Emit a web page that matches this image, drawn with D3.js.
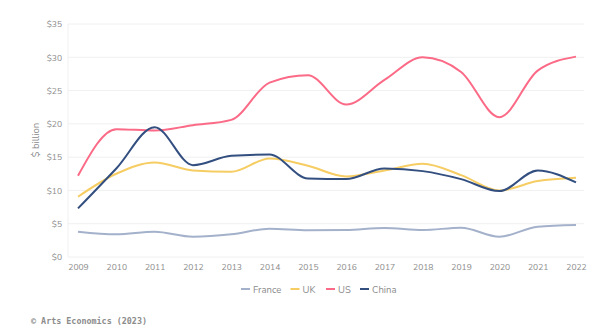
<!DOCTYPE html>
<html>
<head>
<meta charset="utf-8">
<script src="https://cdn.jsdelivr.net/npm/d3@7"></script>
<style>
  html, body { margin: 0; padding: 0; background: #fff; }
  svg { display: block; }
</style>
</head>
<body>
<svg id="chart" width="605" height="334"></svg>
<script>
// Art market sales by country, $ billion
const years = ["2009","2010","2011","2012","2013","2014","2015","2016","2017","2018","2019","2020","2021","2022"];
const france = [3.8, 3.4, 3.8, 3.05, 3.4, 4.25, 4.0, 4.05, 4.35, 4.05, 4.4, 3.05, 4.55, 4.8];
const uk     = [9.05, 12.5, 14.2, 13.0, 12.8, 14.8, 13.7, 12.1, 13.0, 14.0, 12.3, 10.0, 11.4, 11.9];
const us     = [12.2, 19.2, 19.0, 19.8, 20.6, 26.2, 27.3, 22.9, 26.6, 30.0, 27.8, 21.0, 28.0, 30.1];
const china  = [7.3, 13.3, 19.5, 13.8, 15.2, 15.4, 11.8, 11.7, 13.3, 12.9, 11.7, 9.9, 13.0, 11.2];
const yTicks = [0, 5, 10, 15, 20, 25, 30, 35];

const seriesNames = ["France", "UK", "US", "China"];
const seriesValues = [france, uk, us, china];
const colors = ["#a4b1cb", "#f6cd63", "#fb6a86", "#334f80"];

const svg = d3.select("#chart");
const font = "Nunito, 'Open Sans', Lato, sans-serif";

const plot = { left: 68, right: 584, top: 24, bottom: 257 };

const x = d3.scalePoint().domain(years).range([78, 576]);
const y = d3.scaleLinear().domain([0, 35]).range([plot.bottom, plot.top]);

// horizontal grid
svg.append("g").selectAll("line").data(yTicks).join("line")
  .attr("x1", plot.left).attr("x2", plot.right)
  .attr("y1", d => y(d)).attr("y2", d => y(d))
  .attr("stroke", "#f0f0f0").attr("stroke-width", 1);

// left frame line
svg.append("line")
  .attr("x1", plot.left).attr("x2", plot.left)
  .attr("y1", plot.top).attr("y2", plot.bottom)
  .attr("stroke", "#f0f0f0");

// y axis
const yAxis = d3.axisLeft(y).tickValues(yTicks).tickFormat(d => "$" + d).tickSize(0).tickPadding(6);
const gy = svg.append("g").attr("transform", `translate(${plot.left},0)`).call(yAxis);
gy.select(".domain").remove();
gy.selectAll("text").attr("fill", "#8a8a8a").style("font-family", font).style("font-size", "8.5px");

// x axis
const xAxis = d3.axisBottom(x).tickSize(0).tickPadding(7);
const gx = svg.append("g").attr("transform", `translate(0,${plot.bottom})`).call(xAxis);
gx.select(".domain").remove();
gx.selectAll("text").attr("fill", "#8a8a8a").style("font-family", font).style("font-size", "8.5px");

// y axis title
svg.append("text")
  .attr("transform", "translate(39,140) rotate(-90)")
  .attr("text-anchor", "middle")
  .attr("fill", "#8a8a8a")
  .style("font-family", font).style("font-size", "9.5px")
  .text("$ billion");

// series lines
const line = d3.line()
  .x((d, i) => x(years[i]))
  .y(d => y(d))
  .curve(d3.curveMonotoneX);

svg.append("g").selectAll("path").data(seriesValues).join("path")
  .attr("d", d => line(d))
  .attr("fill", "none")
  .attr("stroke", (d, i) => colors[i])
  .attr("stroke-width", 2)
  .attr("stroke-linejoin", "round");

// legend
const legendX = [241, 290.5, 326, 360];
const lg = svg.append("g").selectAll("g").data(seriesNames).join("g")
  .attr("transform", (d, i) => `translate(${legendX[i]},289)`);
lg.append("line").attr("x1", 0).attr("x2", 9).attr("y1", 0).attr("y2", 0)
  .attr("stroke", (d, i) => colors[i]).attr("stroke-width", 2);
lg.append("text").attr("x", 12).attr("y", 3.5)
  .attr("fill", "#8a8a8a")
  .style("font-family", font).style("font-size", "9.5px")
  .text(d => d);

// source footer
svg.append("text")
  .attr("x", 31).attr("y", 324)
  .attr("fill", "#8c8c8c")
  .style("font-family", "'DejaVu Sans Mono', 'Liberation Mono', monospace")
  .style("font-size", "8.4px")
  .style("font-weight", "bold")
  .text("© Arts Economics (2023)");
</script>
</body>
</html>
